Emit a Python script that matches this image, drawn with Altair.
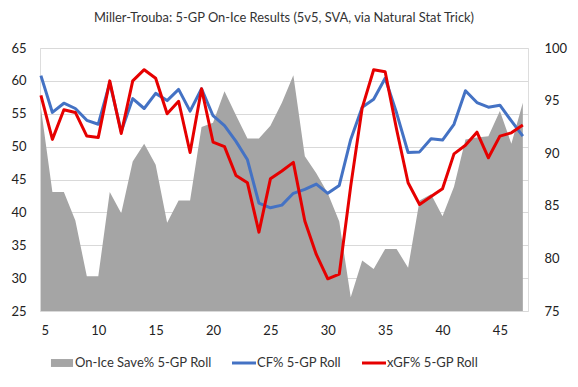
import altair as alt
import pandas as pd

FONT = "Lato"
GRAY = "#a5a5a5"
BLUE = "#4472c4"
RED = "#e60000"

S_NAME = "On-Ice Save% 5-GP Roll"
CF_NAME = "CF% 5-GP Roll"
XG_NAME = "xGF% 5-GP Roll"

games = list(range(5, 48))

save_pct = [94.3, 86.3, 86.3, 83.6, 78.3, 78.3, 86.3, 84.3, 89.2, 90.9,
            88.9, 83.4, 85.5, 85.5, 92.5, 92.9, 95.9, 93.6, 91.4, 91.4,
            92.6, 94.8, 97.4, 89.7, 88.1, 86.2, 83.5, 76.3, 79.8, 79.0,
            80.9, 80.9, 79.1, 85.5, 86.1, 84.0, 86.8, 91.3, 91.5, 91.6,
            94.0, 90.9, 94.8]

cf_pct = [60.8, 55.2, 56.6, 55.8, 54.0, 53.4, 59.7, 52.3, 57.3, 55.8,
          58.1, 57.0, 58.7, 55.4, 58.8, 54.7, 53.2, 50.8, 48.0, 41.4,
          40.7, 41.1, 42.9, 43.5, 44.3, 42.9, 44.1, 51.1, 56.0, 57.2,
          60.4, 55.1, 49.1, 49.2, 51.2, 51.0, 53.4, 58.5, 56.7, 56.0,
          56.3, 53.9, 51.6]

xgf_pct = [57.8, 51.1, 55.6, 55.2, 51.6, 51.4, 60.0, 52.0, 60.0, 61.7,
           60.4, 55.0, 56.9, 49.1, 58.8, 50.7, 50.0, 45.6, 44.5, 37.0,
           45.1, 46.3, 47.6, 38.7, 33.6, 29.9, 30.6, 44.0, 55.9, 61.7,
           61.4, 52.6, 44.5, 41.2, 42.4, 43.6, 48.9, 50.2, 52.2, 48.3,
           51.6, 52.1, 53.3]

x_ticks = [5, 10, 15, 20, 25, 30, 35, 40, 45]
left_ticks = [25, 30, 35, 40, 45, 50, 55, 60, 65]
right_ticks = [75, 80, 85, 90, 95, 100]
save_base = 75

area_df = pd.DataFrame({"game": games, "value": save_pct, "series": S_NAME})
cf_df = pd.DataFrame({"game": games, "value": cf_pct, "series": CF_NAME})
xg_df = pd.DataFrame({"game": games, "value": xgf_pct, "series": XG_NAME})

sym_expr = ("datum.value == '" + S_NAME + "' ? 'M-0.92,-0.33H0.92V0.33H-0.92Z' "
            ": 'M-1,-0.125H1V0.125H-1Z'")

color = alt.Color(
    "series:N",
    scale=alt.Scale(domain=[S_NAME, CF_NAME, XG_NAME], range=[GRAY, BLUE, RED]),
    legend=alt.Legend(
        title=None, orient="none", legendX=10, legendY=303,
        direction="horizontal", columns=3, columnPadding=20,
        symbolType={"expr": sym_expr}, symbolSize=576, symbolStrokeWidth=0,
        symbolOpacity=1, labelOffset=1, labelFont=FONT, labelFontSize=13,
        labelColor="#333333", labelLimit=300,
    ),
)

x_enc = alt.X(
    "game:Q",
    scale=alt.Scale(domain=[4.92, 47.45], nice=False, zero=False),
    axis=alt.Axis(values=x_ticks, title=None, grid=False, ticks=False, domain=False,
                  labelPadding=13, labelFont=FONT, labelFontSize=13, labelColor="#222222"),
)

area = alt.Chart(area_df).mark_area(opacity=1, color=GRAY).encode(
    x=x_enc,
    y=alt.Y("value:Q", scale=alt.Scale(domain=[75, 100], nice=False, zero=False),
            axis=alt.Axis(orient="right", values=right_ticks, title=None, grid=False,
                          ticks=False, domain=False, labelPadding=16, labelFont=FONT,
                          labelFontSize=13, labelColor="#222222")),
    y2=alt.datum(save_base),
    color=color,
)

y_left = alt.Y("value:Q", scale=alt.Scale(domain=[25, 65], nice=False, zero=False),
               axis=alt.Axis(orient="left", values=left_ticks, title=None, grid=True,
                             gridColor="#d9d9d9", gridWidth=1, ticks=False, domain=False,
                             labelPadding=14, labelFont=FONT, labelFontSize=13,
                             labelColor="#222222"))

cf_line = alt.Chart(cf_df).mark_line(strokeWidth=3, strokeJoin="round").encode(
    x=x_enc, y=y_left, color=color)
xg_line = alt.Chart(xg_df).mark_line(strokeWidth=3, strokeJoin="round").encode(
    x=x_enc, y=y_left, color=color)

lines = alt.layer(cf_line, xg_line)

chart = alt.layer(area, lines).resolve_scale(y="independent").properties(
    width=488, height=263,
    title=alt.TitleParams(
        "Miller-Trouba: 5-GP On-Ice Results (5v5, SVA, via Natural Stat Trick)",
        font=FONT, fontSize=12.9, fontWeight="normal", color="#333333",
        anchor="middle", offset=17,
    ),
    autosize=alt.AutoSizeParams(type="none"),
    padding={"left": 32, "top": 40, "right": 42, "bottom": 68},
).configure_view(stroke=None).configure(background="white")

chart.save("out.html", embed_options={"renderer": "svg", "actions": False})
